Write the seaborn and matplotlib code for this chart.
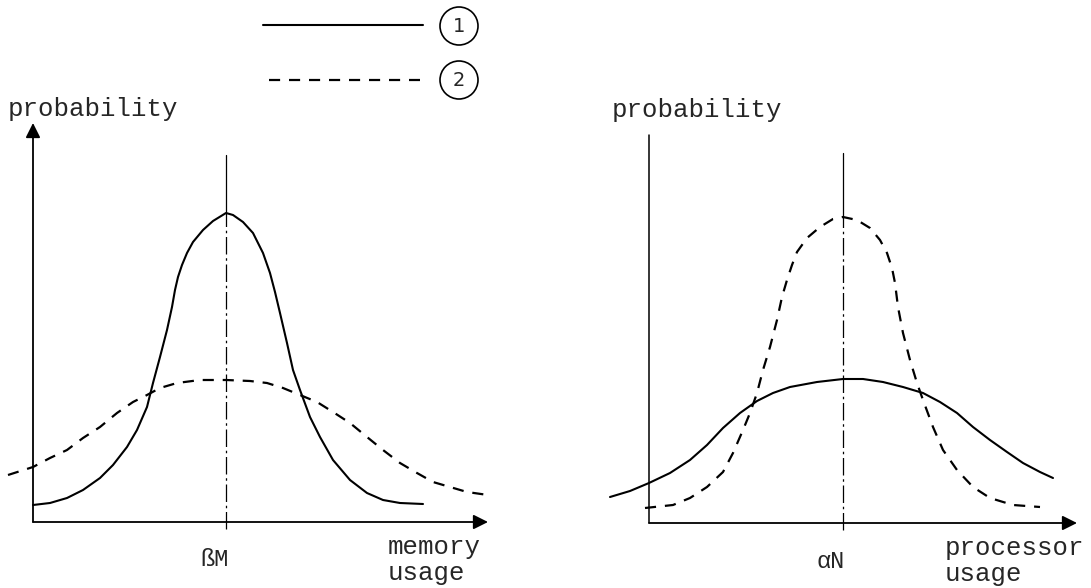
import matplotlib.pyplot as plt
import numpy as np
import pandas as pd
import seaborn as sns

sns.set_style('white')
plt.rcParams['font.family'] = ['Liberation Mono', 'DejaVu Sans']

#%% data (x = usage from origin, y = probability, arbitrary units)
memory_x1 = [0, 17, 34, 50, 67, 80, 94, 104, 114, 120, 127, 134, 139, 142, 145,
             149, 154, 160, 170, 180, 193, 200, 210, 220, 230, 237, 242, 247,
             254, 260, 267, 277, 287, 300, 317, 334, 350, 367, 390]
memory_p1 = [17, 19, 24, 32, 44, 57, 75, 92, 115, 139, 165, 192, 215, 232, 245,
             257, 269, 280, 292, 301, 309, 307, 300, 289, 269, 249, 230, 209,
             179, 152, 132, 105, 85, 62, 42, 29, 22, 19, 18]
memory_x2 = [-25, 0, 17, 34, 50, 67, 84, 100, 114, 127, 144, 167, 193, 217, 234,
             250, 267, 284, 300, 317, 334, 350, 367, 384, 400, 417, 434, 455]
memory_p2 = [47, 55, 64, 72, 84, 95, 109, 120, 127, 134, 139, 142, 142, 141, 139,
             134, 127, 120, 110, 99, 85, 72, 59, 49, 40, 35, 30, 27]
memory_center = 193

proc_x1 = [-39, -19, 0, 21, 41, 58, 74, 91, 108, 124, 141, 168, 194, 214, 234,
           254, 274, 291, 308, 324, 341, 358, 374, 391, 404]
proc_p1 = [26, 32, 40, 50, 63, 78, 95, 110, 122, 130, 136, 141, 144, 144, 141,
           136, 130, 121, 110, 96, 83, 71, 60, 51, 45]
proc_x2 = [-4, 24, 41, 58, 74, 84, 94, 101, 108, 114, 121, 128, 133, 138, 143,
           148, 158, 171, 184, 194, 208, 221, 231, 238, 243, 246, 249, 254, 261,
           268, 274, 284, 294, 308, 324, 341, 364, 391]
proc_p2 = [15, 18, 25, 36, 51, 70, 93, 110, 130, 153, 176, 203, 226, 243, 258,
           271, 285, 296, 304, 306, 303, 295, 283, 270, 255, 240, 216, 190, 163,
           140, 123, 96, 73, 53, 36, 25, 18, 16]
proc_center = 194

legend_labels = ['1', '2']

#%% figure
W, H = 1091, 588
fig = plt.figure(figsize=(W / 100, H / 100), dpi=100)

# each panel axes spans the whole figure, 1 data unit = 1 pixel
ax_mem = fig.add_axes([0, 0, 1, 1])
ax_mem.set(xlim=(-33, W - 33), ylim=(-(H - 522), 522))
ax_proc = fig.add_axes([0, 0, 1, 1])
ax_proc.set(xlim=(-649, W - 649), ylim=(-(H - 523), 523))
ax_top = fig.add_axes([0, 0, 1, 1])
ax_top.set(xlim=(0, W), ylim=(H, 0))
for a in (ax_mem, ax_proc, ax_top):
    a.axis('off')
    a.patch.set_alpha(0)

solid_kw = dict(color='black', linewidth=1.5, estimator=None, sort=False)
dash_kw = dict(color='black', linewidth=1.6, estimator=None, sort=False,
               dashes=False, linestyle=(0, (5, 4)))


def draw_panel(ax, x1, p1, x2, p2, center, y_top, x_end, y_arrow, center_top,
               center_lbl, usage_lbl, usage_x):
    sns.lineplot(x=x1, y=p1, ax=ax, **solid_kw)
    sns.lineplot(x=x2, y=p2, ax=ax, **dash_kw)
    # axes
    arrow = dict(arrowstyle='-|>', mutation_scale=22, lw=1.3, color='black',
                 shrinkA=0, shrinkB=0)
    ax.annotate('', xy=(x_end, 0), xytext=(0, 0), arrowprops=arrow)
    if y_arrow:
        ax.annotate('', xy=(0, y_top), xytext=(0, 0), arrowprops=arrow)
    else:
        ax.plot([0, 0], [0, y_top], color='black', lw=1.1)
    # centre line
    peak = max(max(p1), max(p2))
    ax.plot([center, center], [peak, center_top], color='black', lw=0.9)
    ax.plot([center, center], [-7, peak], color='black', lw=0.9,
            linestyle=(0, (14, 3, 2, 3)))
    ax.text(center - 12, -38, center_lbl, ha='center', va='center', fontsize=17)
    ax.text(usage_x, -25, usage_lbl[0], ha='left', va='center', fontsize=18.5)
    ax.text(usage_x, -51, usage_lbl[1], ha='left', va='center', fontsize=18.5)


draw_panel(ax_mem, memory_x1, memory_p1, memory_x2, memory_p2, memory_center,
           399, 455, True, 367, 'ßM', ['memory', 'usage'], 355)
draw_panel(ax_proc, proc_x1, proc_p1, proc_x2, proc_p2, proc_center,
           388, 428, False, 370, 'αN', ['processor', 'usage'], 296)

ax_mem.text(-25, 413, 'probability', ha='left', va='center', fontsize=18.5)
ax_proc.text(-37, 413, 'probability', ha='left', va='center', fontsize=18.5)

# legend drawn by hand
ax_top.plot([263, 423], [25, 25], color='black', lw=1.5)
ax_top.plot([269, 420], [80, 80], color='black', lw=1.6, linestyle=(0, (5, 4)))
for lbl, yc in zip(legend_labels, [26, 80]):
    ax_top.add_patch(plt.Circle((459, yc), 19, fill=False, lw=1.2, color='black'))
    ax_top.text(459, yc, lbl, ha='center', va='center', fontsize=14,
                family='DejaVu Sans')

fig.savefig('out.png', dpi=100)
